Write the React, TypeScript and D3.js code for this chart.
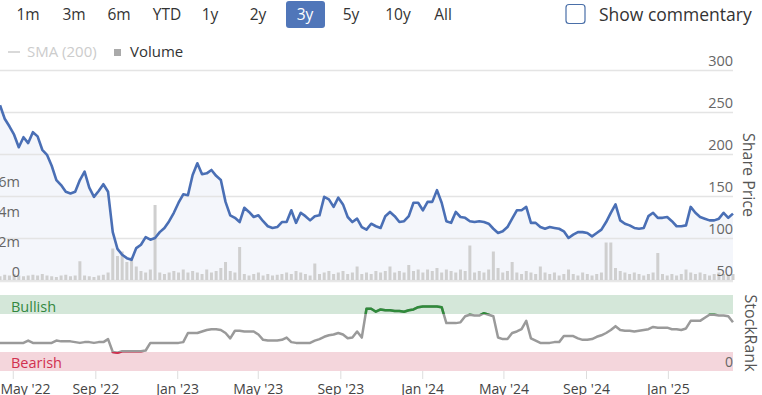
import React, { useRef, useEffect } from 'react';
import * as d3 from 'd3';

// weekly closes from 12 Apr 2022
const startDate = new Date(2022, 3, 12);

const prices = [
  258, 242, 233, 223, 208, 220, 213, 226, 221, 205,
  199, 186, 169, 163, 155, 153, 155, 169, 179, 160,
  149, 156, 164, 155, 107, 87, 80, 76, 74, 88,
  92, 101, 98, 100, 107, 112, 120, 130, 142, 152,
  151, 175, 189, 176, 177, 181, 174, 169, 143, 127,
  124, 119, 136, 131, 125, 127, 120, 114, 112, 113,
  119, 119, 133, 118, 130, 126, 121, 126, 127, 149,
  146, 137, 148, 140, 125, 119, 123, 113, 110, 117,
  114, 112, 126, 131, 126, 119, 120, 126, 142, 142,
  133, 143, 143, 157, 142, 120, 118, 131, 125, 124,
  120, 119, 120, 119, 117, 111, 106, 108, 113, 123,
  133, 133, 137, 118, 118, 113, 111, 113, 112, 111,
  108, 100, 104, 107, 107, 106, 102, 106, 110, 119,
  130, 140, 121, 117, 115, 112, 111, 112, 126, 130,
  124, 124, 125, 120, 114, 114, 115, 137, 130, 125,
  123, 121, 121, 123, 130, 124, 129,
];

// volume in millions
const volumes = [
  0.25, 0.35, 0.3, 0.4, 0.3, 0.25, 0.3, 0.35, 0.3, 0.4,
  0.3, 0.25, 0.2, 0.3, 0.35, 0.25, 0.3, 1.25, 0.3, 0.25,
  0.2, 0.3, 0.35, 0.5, 2.1, 1.6, 1.9, 1.2, 1.5, 0.9,
  0.6, 0.5, 0.7, 5.0, 0.5, 0.4, 0.5, 0.6, 0.5, 0.7,
  0.5, 0.6, 0.5, 0.4, 0.7, 0.5, 0.6, 0.8, 1.2, 0.6,
  0.5, 2.2, 0.4, 0.3, 0.4, 0.5, 0.3, 0.4, 0.3, 0.35,
  0.4, 0.5, 0.4, 0.6, 0.5, 0.4, 0.3, 1.1, 0.4, 0.5,
  0.6, 0.4, 0.5, 0.6, 0.4, 0.5, 0.9, 0.4, 0.5, 0.4,
  0.6, 0.5, 0.6, 0.9, 0.5, 0.6, 0.5, 1.0, 0.6, 0.7,
  0.5, 0.7, 0.6, 0.8, 0.5, 0.7, 0.6, 0.5, 0.7, 0.6,
  2.3, 0.5, 0.6, 0.5, 0.7, 1.9, 0.8, 0.5, 0.6, 1.2,
  0.5, 0.4, 0.6, 0.5, 0.4, 0.9, 0.5, 0.4, 0.5, 0.3,
  0.4, 0.7, 0.4, 0.3, 0.5, 0.4, 0.3, 0.4, 0.5, 2.5,
  2.5, 0.8, 0.6, 0.5, 0.4, 0.5, 0.4, 0.3, 0.4, 0.5,
  1.8, 0.4, 0.3, 0.4, 0.3, 0.4, 0.7, 0.5, 0.4, 0.5,
  0.4, 0.3, 0.4, 0.5, 0.4, 0.3, 0.4,
];

const stockRank = [
  37, 37, 37, 37, 37, 37, 40, 37, 37, 37,
  37, 37, 40, 39, 39, 39, 38, 37, 38, 38,
  37, 38, 38, 42, 25, 24, 26, 26, 26, 26,
  26, 27, 37, 37, 37, 37, 37, 37, 37, 38,
  50, 50, 50, 52, 54, 55, 55, 54, 50, 43,
  53, 53, 52, 52, 52, 48, 41, 40, 40, 40,
  41, 44, 38, 37, 37, 37, 37, 40, 42, 45,
  47, 48, 50, 48, 43, 44, 52, 44, 82, 82,
  78, 81, 80, 80, 79, 79, 78, 80, 81, 84,
  85, 85, 85, 85, 84, 63, 63, 63, 64, 72,
  74, 73, 73, 76, 74, 72, 44, 42, 42, 50,
  52, 55, 66, 43, 40, 37, 37, 37, 38, 38,
  46, 46, 46, 43, 41, 41, 42, 45, 47, 50,
  54, 59, 54, 53, 53, 52, 53, 54, 55, 58,
  57, 57, 57, 55, 55, 54, 56, 66, 66, 66,
  70, 74, 74, 73, 73, 72, 64,
];

const rangeButtons = ['1m', '3m', '6m', 'YTD', '1y', '2y', '3y', '5y', '10y', 'All'];
const priceTicks = [50, 100, 150, 200, 250, 300];
const volumeTicks = [0, 2, 4, 6];

const App = () => {
  const ref = useRef<SVGSVGElement>(null);

  useEffect(() => {
    document.body.style.margin = '0';
    const W = 762;
    const H = 395;
    const font = '"Open Sans", sans-serif';
    const svg = d3.select(ref.current).attr('width', W).attr('height', H);
    svg.selectAll('*').remove();

    const dates = prices.map((_, i) => d3.timeDay.offset(startDate, i * 7));
    const plotRight = 735;

    const x = d3.scaleTime()
      .domain([startDate, new Date(2025, 3, 11)])
      .range([0, plotRight]);
    const yPrice = d3.scaleLinear().domain([50, 300]).range([280, 70]);
    const yVol = d3.scaleLinear().domain([0, 14]).range([280, 70]);
    const yRank = d3.scaleLinear().domain([0, 100]).range([371, 295]);

    // range selector
    const btnX = [28, 74, 119, 167, 210, 258, 305, 351, 398, 443];
    rangeButtons.forEach((b, i) => {
      if (b === '3y') {
        svg.append('rect').attr('x', 286).attr('y', 1).attr('width', 39).attr('height', 27)
          .attr('rx', 3).attr('fill', '#5076b9');
      }
      svg.append('text').attr('x', btnX[i]).attr('y', 20).attr('text-anchor', 'middle')
        .attr('font-family', font).attr('font-size', 15.5)
        .attr('fill', b === '3y' ? '#fff' : '#333').text(b);
    });

    svg.append('rect').attr('x', 566).attr('y', 4.5).attr('width', 19).attr('height', 19)
      .attr('rx', 3).attr('fill', '#fff').attr('stroke', '#4a6fa8').attr('stroke-width', 1.2);
    svg.append('text').attr('x', 599).attr('y', 21).attr('font-family', font)
      .attr('font-size', 17.5).attr('fill', '#333').text('Show commentary');

    // legend
    svg.append('line').attr('x1', 8).attr('x2', 20).attr('y1', 52).attr('y2', 52)
      .attr('stroke', '#ccc').attr('stroke-width', 1.5);
    svg.append('text').attr('x', 27).attr('y', 57).attr('font-family', font)
      .attr('font-size', 15).attr('fill', '#ccc').text('SMA (200)');
    svg.append('rect').attr('x', 114).attr('y', 49).attr('width', 7).attr('height', 7).attr('fill', '#aaa');
    svg.append('text').attr('x', 130).attr('y', 57).attr('font-family', font)
      .attr('font-size', 15).attr('fill', '#333').text('Volume');

    // price area + gridlines
    const area = d3.area<number>()
      .x((_, i) => x(dates[i]))
      .y0(280)
      .y1((d) => yPrice(d));
    svg.append('path').datum(prices).attr('d', area).attr('fill', '#f4f6fb');

    svg.selectAll('.grid').data(priceTicks).enter().append('line')
      .attr('x1', 0).attr('x2', plotRight - 2)
      .attr('y1', (d) => yPrice(d) + 0.5).attr('y2', (d) => yPrice(d) + 0.5)
      .attr('stroke', '#e4e4e4').attr('stroke-width', 1.5);

    // volume bars
    svg.selectAll('.vol').data(volumes).enter().append('rect')
      .attr('x', (_, i) => x(dates[i]) - 1.5)
      .attr('width', 3)
      .attr('y', (d) => yVol(d))
      .attr('height', (d) => 280 - yVol(d))
      .attr('fill', '#cfcfcf');

    const line = d3.line<number>()
      .x((_, i) => x(dates[i]))
      .y((d) => yPrice(d));
    svg.append('path').datum(prices).attr('d', line).attr('fill', 'none')
      .attr('stroke', '#4a6fb5').attr('stroke-width', 2.6).attr('stroke-linejoin', 'round');

    svg.selectAll('.pt').data(priceTicks).enter().append('text')
      .attr('x', plotRight - 2).attr('y', (d) => yPrice(d) - 4)
      .attr('text-anchor', 'end').attr('font-family', font).attr('font-size', 14.5)
      .attr('fill', '#666').text((d) => d);

    svg.selectAll('.vt').data(volumeTicks).enter().append('text')
      .attr('x', 20).attr('y', (d) => yVol(d) - 3)
      .attr('text-anchor', 'end').attr('font-family', font).attr('font-size', 14.5)
      .attr('fill', '#666').text((d) => (d === 0 ? '0' : `${d}m`));

    svg.append('text').attr('transform', 'translate(743,175) rotate(90)')
      .attr('text-anchor', 'middle').attr('font-family', font).attr('font-size', 16)
      .attr('fill', '#555').text('Share Price');

    // StockRank panel
    svg.append('rect').attr('x', 0).attr('y', yRank(100)).attr('width', plotRight - 2)
      .attr('height', yRank(75) - yRank(100)).attr('fill', '#d4e7d9');
    svg.append('rect').attr('x', 0).attr('y', yRank(25)).attr('width', plotRight - 2)
      .attr('height', yRank(0) - yRank(25)).attr('fill', '#f4d6dc');
    svg.append('line').attr('x1', 0).attr('x2', plotRight - 2).attr('y1', 281.5).attr('y2', 281.5)
      .attr('stroke', '#e8e8e8').attr('stroke-width', 1.5);

    svg.append('text').attr('x', 11).attr('y', 312).attr('font-family', font)
      .attr('font-size', 14.5).attr('fill', '#33883f').text('Bullish');
    svg.append('text').attr('x', 11).attr('y', 368).attr('font-family', font)
      .attr('font-size', 14.5).attr('fill', '#d1304f').text('Bearish');
    svg.append('text').attr('x', plotRight - 2).attr('y', 367).attr('text-anchor', 'end')
      .attr('font-family', font).attr('font-size', 14).attr('fill', '#666').text('0');

    const defs = svg.append('defs');
    defs.append('clipPath').attr('id', 'bull').append('rect')
      .attr('x', 0).attr('y', 0).attr('width', W).attr('height', yRank(75));
    defs.append('clipPath').attr('id', 'bear').append('rect')
      .attr('x', 0).attr('y', yRank(25)).attr('width', W).attr('height', 50);

    const rankLine = d3.line<number>()
      .x((_, i) => x(dates[i]))
      .y((d) => yRank(d));
    const drawRank = (color: string, clip?: string) => {
      const p = svg.append('path').datum(stockRank).attr('d', rankLine).attr('fill', 'none')
        .attr('stroke', color).attr('stroke-width', 2.5).attr('stroke-linejoin', 'round');
      if (clip) p.attr('clip-path', `url(#${clip})`);
    };
    drawRank('#9a9a9a');
    drawRank('#2f8a3a', 'bull');
    drawRank('#d1304f', 'bear');

    svg.append('text').attr('transform', 'translate(745,333) rotate(90)')
      .attr('text-anchor', 'middle').attr('font-family', font).attr('font-size', 16)
      .attr('fill', '#555').text('StockRank');

    // x axis
    const xAxis = d3.axisBottom(x)
      .ticks(d3.timeMonth.every(4))
      .tickFormat((d) => d3.timeFormat("%b '%y")(d as Date))
      .tickSize(8)
      .tickPadding(5);
    const gx = svg.append('g').attr('transform', `translate(0, 371)`).call(xAxis);
    gx.select('.domain').remove();
    gx.selectAll('line').attr('stroke', '#ddd');
    gx.selectAll('text').attr('font-family', font).attr('font-size', 14).attr('fill', '#444');
    // keep the first label inside the plot, as the original does
    gx.selectAll<SVGGElement, Date>('.tick').each(function (d) {
      const t = d3.select(this).select<SVGTextElement>('text');
      const w = t.node()!.getComputedTextLength();
      const left = x(d) - w / 2;
      if (left < 0) t.attr('x', -left);
    });
  }, []);

  return <svg ref={ref} style={{ display: 'block' }}></svg>;
};

export default App;
